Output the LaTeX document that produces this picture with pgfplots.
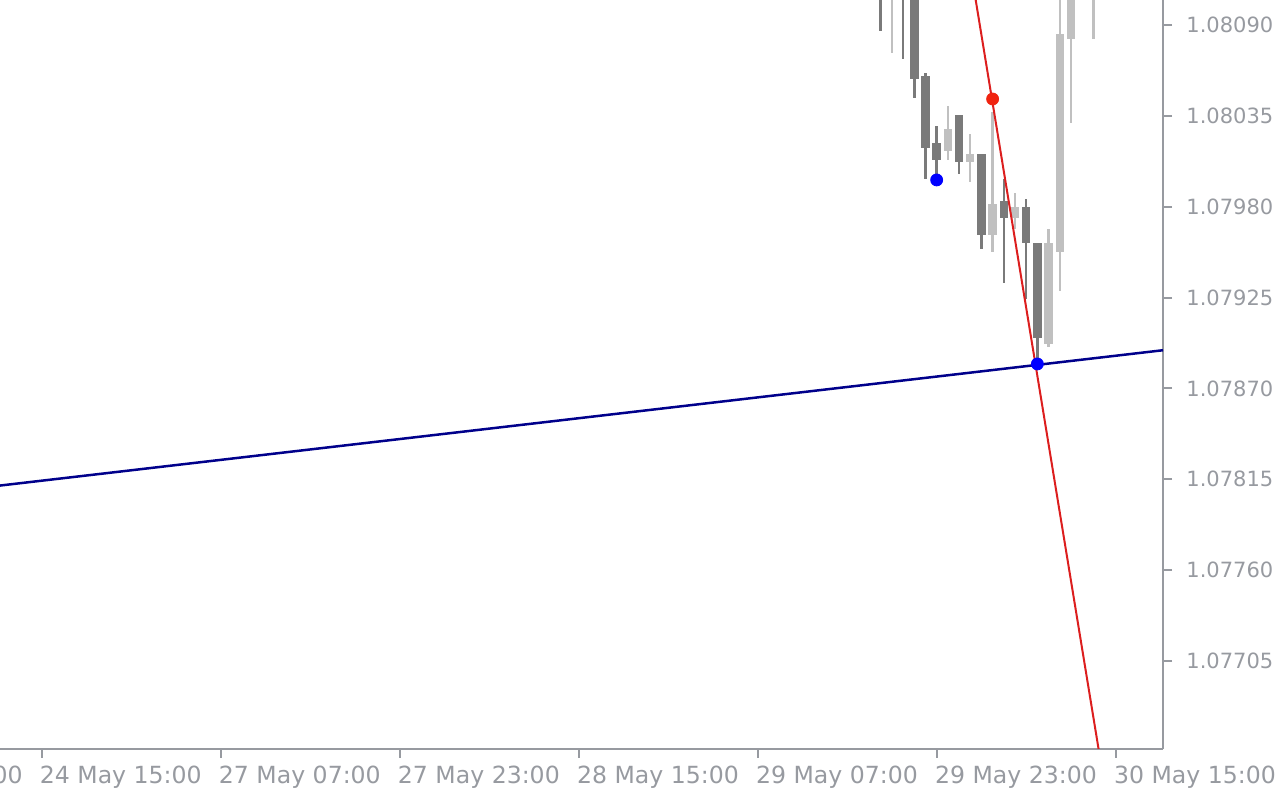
\documentclass[border=0pt]{standalone}
\usepackage{fontspec}
\setmainfont{DejaVu Sans}
\usepackage{pgfplots}
\usepackage{pgfplotstable}
\pgfplotsset{compat=1.18}
\definecolor{axisgray}{RGB}{151,154,160}
\definecolor{candledark}{RGB}{122,122,122}
\definecolor{candlelight}{RGB}{192,192,192}
\definecolor{redline}{RGB}{220,30,30}
\definecolor{navyline}{RGB}{0,0,139}
\definecolor{dotblue}{RGB}{0,0,255}
\definecolor{dotred}{RGB}{240,35,15}

% prices in units of 0.00001 above 1.07000 (e.g. 1090 = 1.08090)
\pgfplotstableread{
x o h l c
75 1140 1150 1086.4 1110
77 1128 1132 1069.4 1107
78 1108 1112 1046.0 1057.3
79 1059.1 1060.9 996.8 1015.7
80 1018.6 1028.9 996.2 1008.3
82 1035.5 1035.5 999.8 1007.1
84 1011.9 1011.9 954.4 962.9
86 983.5 996.8 934.0 973.4
88 979.8 984.7 924.1 958.2
89 958.0 958.0 882.4 900.7
}\bear

\pgfplotstableread{
x o h l c
76 1108 1140 1073.1 1130
81 1013.7 1041.0 1008.3 1027.0
83 1007.1 1024.0 995.0 1011.9
85 962.9 1037.3 952.8 981.6
87 973.4 988.3 966.5 979.8
90 897.1 966.5 895.3 958.0
91 952.8 1115 929.2 1084.6
92 1081.5 1120 1030.9 1112
93 1112 1125 1108 1118
94 1110 1128 1081.5 1122
}\bull

\begin{document}
\begin{tikzpicture}
\begin{axis}[
  scale only axis, width=655.9pt, height=374.5pt,
  xmin=-17, xmax=100.23, ymin=651.7, ymax=1105.13,
  axis x line*=bottom, axis y line*=right,
  axis line style={draw=axisgray, line width=1.25pt, -},
  tick align=outside, major tick length=4.5pt,
  tick style={draw=axisgray, line width=1pt},
  xtick={-16,0,16,32,48,64,80,96},
  xticklabels={23 May 23:00, 24 May 15:00, 27 May 07:00, 27 May 23:00, 28 May 15:00, 29 May 07:00, 29 May 23:00, 30 May 15:00},
  ytick={705,760,815,870,925,980,1035,1090},
  yticklabels={1.07705,1.07760,1.07815,1.07870,1.07925,1.07980,1.08035,1.08090},
  ticklabel style={text=axisgray, inner sep=0pt},
  xticklabel style={font=\fontsize{11.8pt}{14pt}\selectfont, anchor=north west, xshift=-1pt, yshift=-4pt},
  yticklabel style={font=\fontsize{10.5pt}{13pt}\selectfont, anchor=west, xshift=7pt},
  minor tick num=0,
]
% wicks and bodies
\addplot[draw=none, mark=none, forget plot,
  error bars/.cd, y dir=both, y explicit, error mark=none,
  error bar style={draw=candledark, line width=1.25pt}]
  table[x=x, y expr={(\thisrow{h}+\thisrow{l})/2}, y error expr={(\thisrow{h}-\thisrow{l})/2}] {\bear};
\addplot[draw=none, mark=none, forget plot,
  error bars/.cd, y dir=both, y explicit, error mark=none,
  error bar style={draw=candledark, line width=4.25pt}]
  table[x=x, y expr={(\thisrow{o}+\thisrow{c})/2}, y error expr={abs(\thisrow{o}-\thisrow{c})/2}] {\bear};
\addplot[draw=none, mark=none, forget plot,
  error bars/.cd, y dir=both, y explicit, error mark=none,
  error bar style={draw=candlelight, line width=1.25pt}]
  table[x=x, y expr={(\thisrow{h}+\thisrow{l})/2}, y error expr={(\thisrow{h}-\thisrow{l})/2}] {\bull};
\addplot[draw=none, mark=none, forget plot,
  error bars/.cd, y dir=both, y explicit, error mark=none,
  error bar style={draw=candlelight, line width=4.25pt}]
  table[x=x, y expr={(\thisrow{o}+\thisrow{c})/2}, y error expr={abs(\thisrow{o}-\thisrow{c})/2}] {\bull};
% trend lines
\addplot[color=redline, line width=1pt] coordinates {(83,1125.3) (95,629.8)};
\addplot[color=navyline, line width=1.25pt] coordinates {(-17,800.7) (100.23,893.1)};
% dots
\addplot[only marks, mark=*, mark size=3pt, color=dotblue] coordinates {(80,996.2) (89,884.8)};
\addplot[only marks, mark=*, mark size=3pt, color=dotred] coordinates {(85,1045.2)};
\coordinate (pbl) at (axis cs:-3.709,651.7);
\coordinate (ptr) at (axis cs:100.23,1105.13);
\end{axis}
\pgfresetboundingbox
\path[use as bounding box] ([yshift=-25.5pt]pbl) rectangle ([xshift=58.5pt]ptr);
\end{tikzpicture}
\end{document}
